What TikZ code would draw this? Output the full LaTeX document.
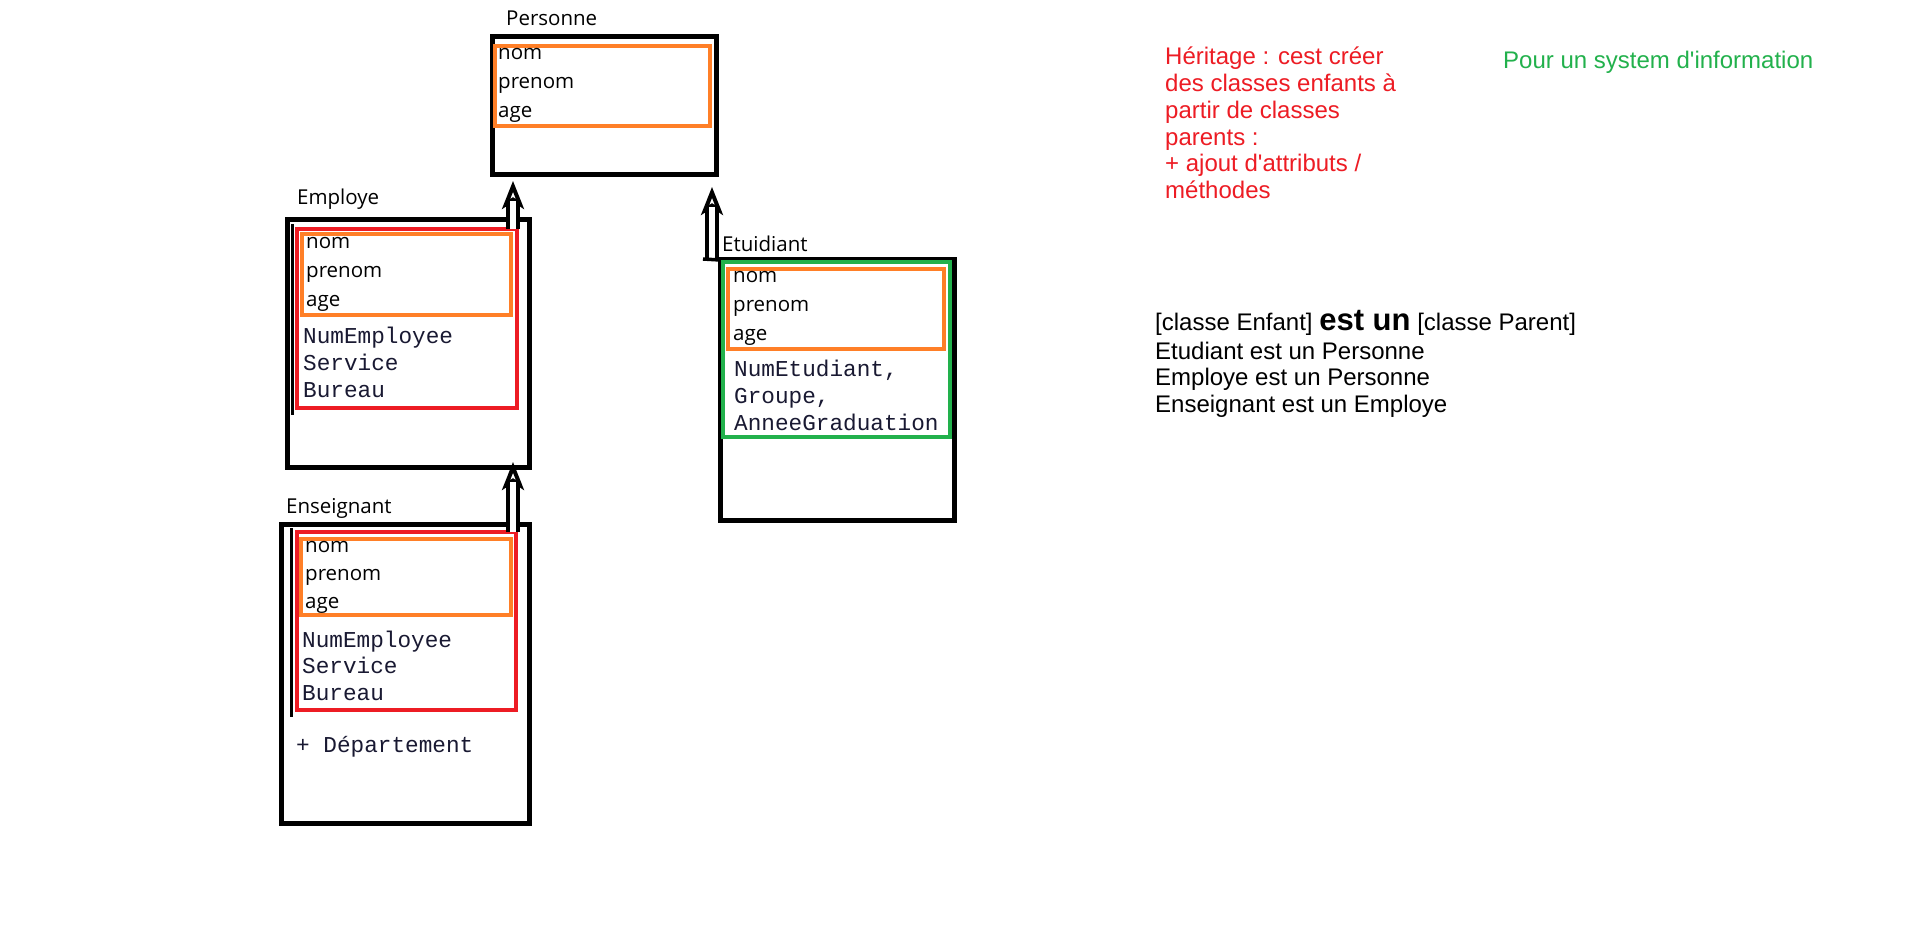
\documentclass[tikz,border=0pt]{standalone}
\usepackage{fontspec}
\newfontfamily\uifont{Open Sans}
\newfontfamily\arialfont{Liberation Sans}
\newfontfamily\courierfont{Liberation Mono}
\usetikzlibrary{arrows.meta}
\definecolor{paintorange}{RGB}{255,127,39}
\definecolor{paintred}{RGB}{237,28,36}
\definecolor{paintgreen}{RGB}{34,177,76}
\definecolor{codeink}{RGB}{25,25,50}
\tikzset{>=latex,
  classbox/.style={draw,line width=5pt,outer sep=0pt,inner sep=0pt,anchor=north west},
  classname/.style={anchor=base west,inner sep=0pt,font=\uifont\fontsize{20.5}{24}\selectfont},
  attr/.style={anchor=base west,inner sep=0pt,font=\uifont\fontsize{20.5}{24}\selectfont},
  code/.style={anchor=base west,inner sep=0pt,text=codeink,font=\courierfont\fontsize{22.7}{26.5}\selectfont},
  herit/.style={line width=4pt,-{Stealth[open,length=28pt,width=22pt,inset=7pt,line width=4pt]},
    postaction={draw,-,double=white,double distance=6.5pt,line width=3.5pt,shorten >=20pt}},
}

\begin{document}
\begin{tikzpicture}[x=1pt,y=-1pt]
	\fill[white] (0,0) rectangle (1912,933);
	\useasboundingbox (0,0) rectangle (1912,933);

	% Personne
	\node[classbox,minimum width=224pt,minimum height=138pt] (personne) at (492,37) {};
	\node[classname] (personneLbl) at (506,26) {Personne};
	\draw[paintorange,line width=4pt] (495,46) rectangle (710,126);
	\foreach \a [count=\i] in {nom,prenom,age}
		\node[attr] (personne\i) at (498,31+29*\i) {\a};

	% Employe
	\node[classbox,minimum width=242pt,minimum height=247pt] (employe) at (287,220) {};
	\node[classname] (employeLbl) at (297,205) {Employe};
	\draw[line width=3pt] (292,224) -- (292,415);
	\draw[paintred,line width=4.5pt] (297,229) rectangle (517,408);
	\draw[paintorange,line width=4pt] (302,234) rectangle (511,315);
	\foreach \a [count=\i] in {nom,prenom,age}
		\node[attr] (employe\i) at (306,220+29*\i) {\a};
	\foreach \a [count=\i] in {NumEmployee,Service,Bureau}
		\node[code] (employeC\i) at (303,317.5+26.5*\i) {\a};

	% Enseignant
	\node[classbox,minimum width=248pt,minimum height=299pt] (enseignant) at (281,524) {};
	\node[classname] (enseignantLbl) at (286,513) {Enseignant};
	\draw[line width=3pt] (291,528) -- (291,717);
	\draw[paintred,line width=4.5pt] (297,532) rectangle (516,710);
	\draw[paintorange,line width=4pt] (301,539) rectangle (511,615);
	\foreach \a [count=\i] in {nom,prenom,age}
		\node[attr] (enseignant\i) at (305,524+28*\i) {\a};
	\foreach \a [count=\i] in {NumEmployee,Service,Bureau}
		\node[code] (enseignantC\i) at (302,620.5+26.5*\i) {\a};
	\node[code] (departement) at (296,752) {+ Département};

	% Etudiant
	\node[classbox,minimum width=234pt,minimum height=260pt] (etudiant) at (720,260) {};
	\node[classname] (etudiantLbl) at (722,252) {Etuidiant};
	\draw[paintgreen,line width=4pt] (723,262) rectangle (950,437);
	\draw[paintorange,line width=4pt] (728,269) rectangle (944,349);
	\foreach \a [count=\i] in {nom,prenom,age}
		\node[attr] (etudiant\i) at (733,254+29*\i) {\a};
	\foreach \a [count=\i] in {NumEtudiant{,},Groupe{,},AnneeGraduation}
		\node[code] (etudiantC\i) at (734,350.5+26.5*\i) {\a};

	% heritage
	\coordinate (empFoot) at (513,229);
	\coordinate (persTipA) at (513,181);
	\coordinate (ensFoot) at (513,532);
	\coordinate (empTip) at (513,462);
	\coordinate (etuFoot) at (712,259);
	\coordinate (persTipB) at (712,187);
	\draw[herit] (empFoot) -- (persTipA);
	\draw[herit] (ensFoot) -- (empTip);
	\draw[herit] (etuFoot) -- (persTipB);
	\draw[line width=3.5pt] (703,259) -- (etudiant.north west);

	% notes
	\node[anchor=base west,inner sep=0pt,align=left,text=paintred,font=\arialfont\fontsize{24}{26.7}\selectfont] (definition) at (1165,198.5)
		{Héritage : cest créer\\des classes enfants à\\partir de classes\\parents :\\+ ajout d\textquotesingle attributs /\\méthodes};
	\node[anchor=base west,inner sep=0pt,text=paintgreen,font=\arialfont\fontsize{24}{26.7}\selectfont] (contexte) at (1503,69)
		{Pour un system d\textquotesingle information};
	\node[anchor=base west,inner sep=0pt,align=left,font=\arialfont\fontsize{24}{26.5}\selectfont] (regle) at (1155,412)
		{[classe Enfant] {\bfseries\fontsize{31}{31}\selectfont est un} [classe Parent]\\[2pt]
		Etudiant est un Personne\\Employe est un Personne\\Enseignant est un Employe};
\end{tikzpicture}
\end{document}
